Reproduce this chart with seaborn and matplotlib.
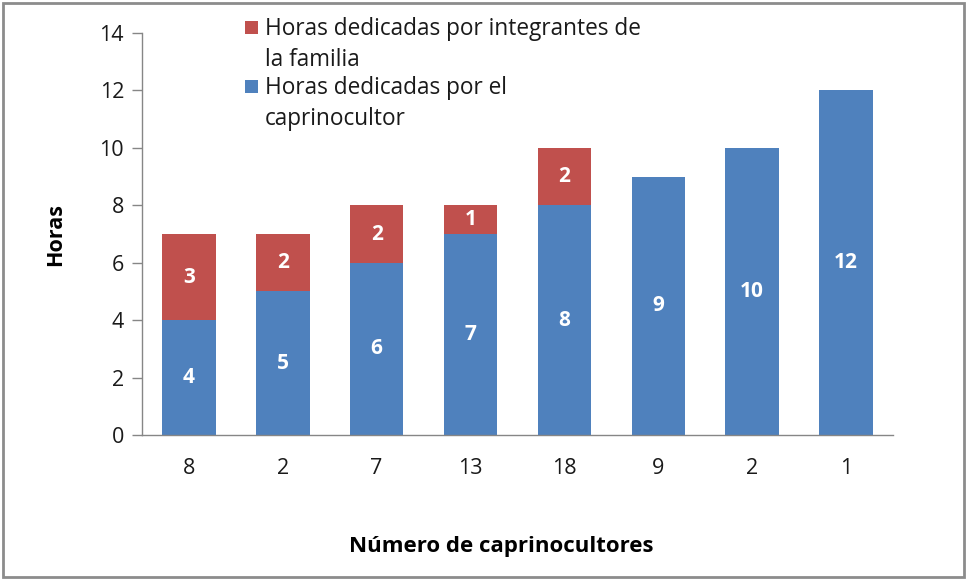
import matplotlib
matplotlib.use("Agg")
import matplotlib.pyplot as plt
from matplotlib.patches import Rectangle
import pandas as pd
import seaborn as sns

# data
categories = ["8", "2", "7", "13", "18", "9", "2", "1"]
horas_caprinocultor = [4, 5, 6, 7, 8, 9, 10, 12]
horas_familia = [3, 2, 2, 1, 2, 0, 0, 0]

label_familia = ["Horas dedicadas por integrantes de", "la familia"]
label_capri = ["Horas dedicadas por el", "caprinocultor"]

BLUE = "#4F81BD"
RED = "#C0504D"
AXIS_GREY = "#868686"
TEXT = "#1a1a1a"

sns.set_style("white")
plt.rcParams["font.family"] = ["Open Sans", "DejaVu Sans"]

df = pd.DataFrame({
    "pos": [str(i) for i in range(len(categories))],
    "capri": horas_caprinocultor,
    "familia": horas_familia,
})
df["total"] = df["capri"] + df["familia"]

W, H = 968, 579
fig = plt.figure(figsize=(W / 100, H / 100), dpi=100)
ax = fig.add_axes([0.1467, 0.2487, 0.7758, 0.6943])

# stacked look: totals in red, then the blue part drawn over them
sns.barplot(data=df, x="pos", y="total", color=RED, saturation=1,
            width=0.57, ax=ax, errorbar=None, linewidth=0)
sns.barplot(data=df, x="pos", y="capri", color=BLUE, saturation=1,
            width=0.57, ax=ax, errorbar=None, linewidth=0)

for i, row in df.iterrows():
    ax.text(i, row["capri"] / 2, str(row["capri"]), ha="center", va="center",
            color="white", fontsize=15, fontweight="bold")
    if row["familia"] > 0:
        ax.text(i, row["capri"] + row["familia"] / 2, str(row["familia"]),
                ha="center", va="center", color="white", fontsize=15,
                fontweight="bold")

ax.set_ylim(0, 14)
ax.set_yticks(range(0, 15, 2))
ax.set_xlim(-0.5, len(categories) - 0.5)
ax.set_xticks(range(len(categories)))
ax.set_xticklabels(categories)

for side in ["top", "right"]:
    ax.spines[side].set_visible(False)
for side in ["left", "bottom"]:
    ax.spines[side].set_color(AXIS_GREY)
    ax.spines[side].set_linewidth(1)

ax.tick_params(axis="y", which="both", left=True, length=7, width=1,
               color=AXIS_GREY, labelsize=15.5, pad=6, labelcolor=TEXT)
ax.tick_params(axis="x", which="both", bottom=False, labelsize=15.5, pad=13,
               labelcolor=TEXT)

ax.set_xlabel("Número de caprinocultores", fontsize=16, fontweight="bold",
              color="black")
ax.xaxis.set_label_coords(0.479, -0.252)
ax.set_ylabel("Horas", fontsize=15.5, fontweight="bold", labelpad=24,
              color="black")

# legend drawn by hand so the swatch sits on the first line of each entry
entries = [(RED, label_familia, 35), (BLUE, label_capri, 94)]
line_gap = 31
for color, lines, base in entries:
    fig.patches.append(Rectangle((245 / W, 1 - (base - 1) / H), 13 / W, 13 / H,
                                 transform=fig.transFigure, facecolor=color,
                                 edgecolor="none"))
    for k, line in enumerate(lines):
        fig.text(265 / W, 1 - (base + k * line_gap) / H, line, fontsize=16.3,
                 color=TEXT, ha="left", va="baseline")

fig.patches.append(Rectangle((0.003, 0.003), 0.993, 0.992,
                             transform=fig.transFigure, fill=False,
                             edgecolor="#8c8c8c", linewidth=2, zorder=10))

fig.savefig("out.png", dpi=100, facecolor="white")
